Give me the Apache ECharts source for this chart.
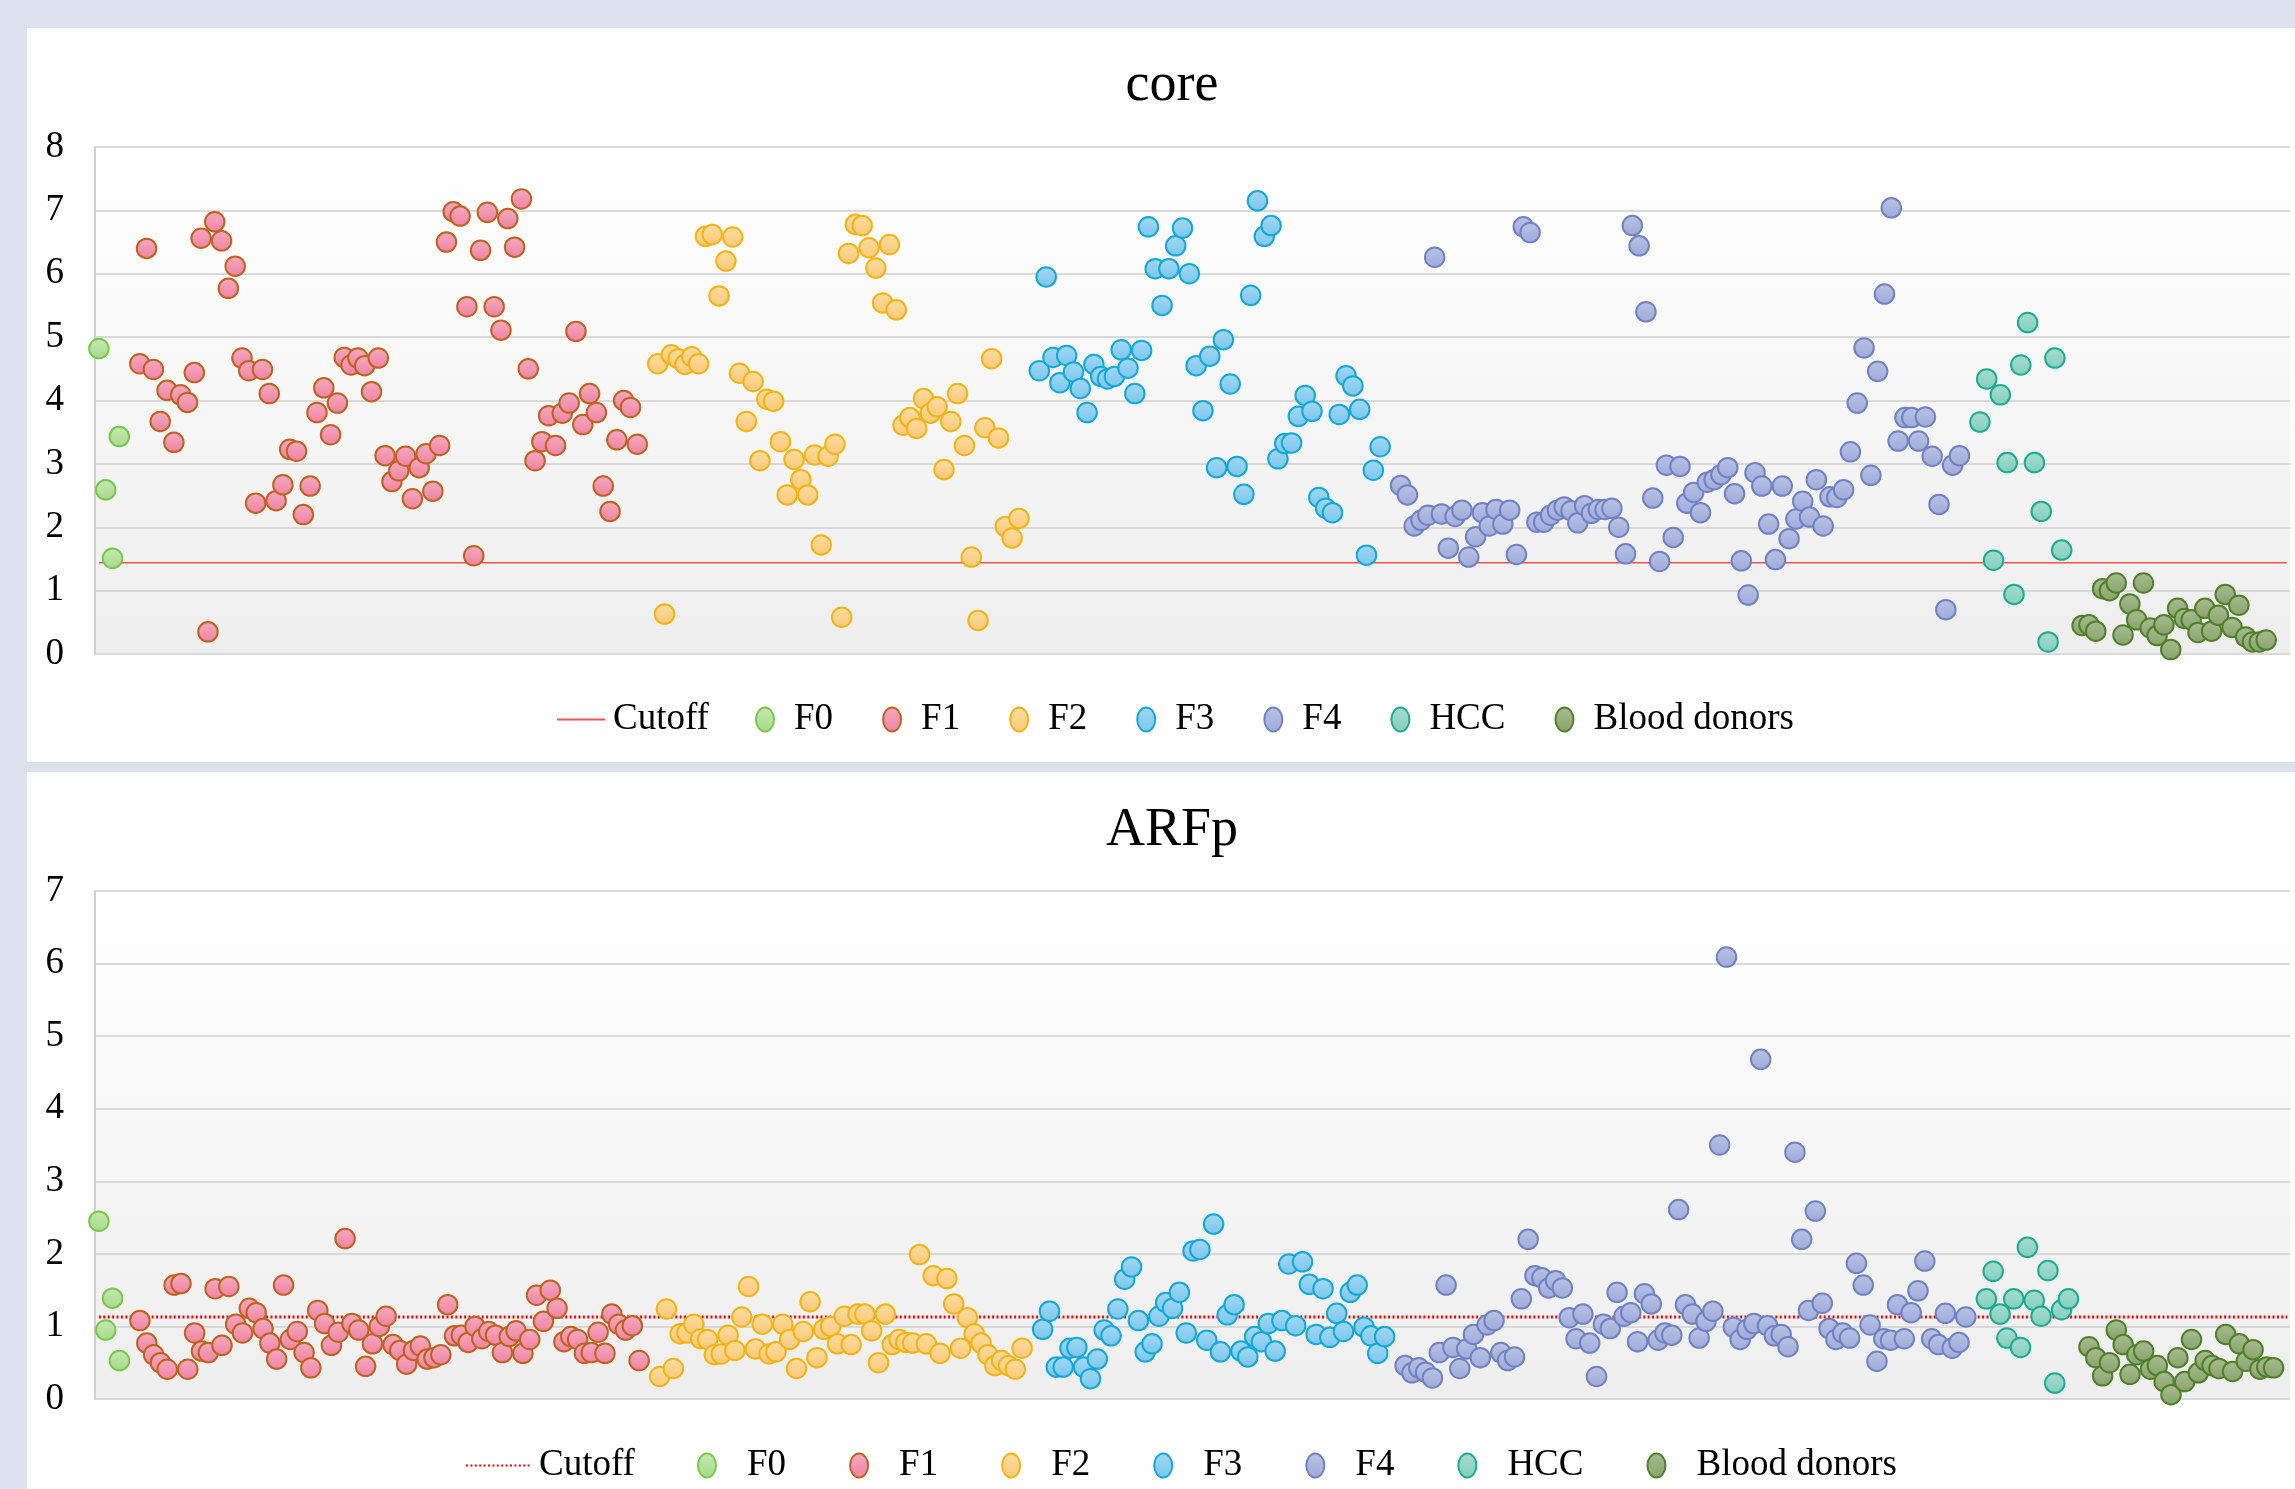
<!DOCTYPE html>
<html><head><meta charset="utf-8">
<script src="https://cdn.jsdelivr.net/npm/echarts/dist/echarts.min.js"></script>
<style>
html,body{margin:0;padding:0;width:2295px;height:1489px;background:#dde1ee;overflow:hidden;}
.panel{position:absolute;background:#ffffff;}
.chart{position:absolute;left:0;width:2295px;}
</style></head><body>
<div class="panel" style="left:27px;top:28px;width:2268px;height:734px"></div>
<div class="panel" style="left:27px;top:772px;width:2268px;height:717px"></div>
<div id="c1" class="chart" style="top:0;height:765px"></div>
<div id="c2" class="chart" style="top:765px;height:724px"></div>
<script>
// ---------- DATA ----------
const groupNames = ['F0', 'F1', 'F2', 'F3', 'F4', 'HCC', 'Blood donors'];
const groupStarts = [1, 7, 83, 139, 192, 277, 292]; // first sample index of each group

// core panel
const coreCutoff = 1.44;
const coreCutoffX = [1, 322];
const coreYTicks = [0, 8, 1];
const coreF0 = [4.82, 2.59, 1.51, 3.43];
const coreF1 = [4.58, 6.40, 4.49, 3.67, 4.16, 3.34, 4.09, 3.97, 4.44, 6.56,
  0.35, 6.82, 6.52, 5.77, 6.12, 4.67, 4.47, 2.38, 4.49, 4.11,
  2.42, 2.67, 3.23, 3.20, 2.20, 2.65, 3.81, 4.20, 3.46, 3.96,
  4.68, 4.56, 4.67, 4.55, 4.14, 4.67, 3.13, 2.72, 2.89, 3.12,
  2.45, 2.94, 3.16, 2.57, 3.29, 6.50, 6.98, 6.91, 5.48, 1.55,
  6.37, 6.97, 5.48, 5.11, 6.87, 6.42, 7.18, 4.50, 3.05, 3.35,
  3.76, 3.29, 3.80, 3.96, 5.09, 3.62, 4.11, 3.81, 2.65, 2.25,
  3.38, 4.00, 3.89, 3.31];
const coreF2 = [4.58, 0.63, 4.72, 4.66, 4.57, 4.69, 4.58, 6.59, 6.62, 5.65,
  6.20, 6.58, 4.43, 3.67, 4.30, 3.05, 4.02, 3.99, 3.35, 2.51,
  3.07, 2.75, 2.51, 3.14, 1.72, 3.12, 3.31, 0.58, 6.32, 6.78,
  6.76, 6.41, 6.09, 5.54, 6.46, 5.43, 3.61, 3.73, 3.56, 4.03,
  3.80, 3.90, 2.91, 3.67, 4.11, 3.29, 1.53, 0.53, 3.57, 4.66,
  3.41, 2.01, 1.83, 2.14];
const coreF3 = [4.47, 5.95, 4.68, 4.28, 4.71, 4.45, 4.19, 3.81, 4.57, 4.38,
  4.34, 4.38, 4.80, 4.51, 4.11, 4.79, 6.74, 6.08, 5.50, 6.08,
  6.44, 6.72, 6.00, 4.55, 3.84, 4.70, 2.94, 4.96, 4.26, 2.96,
  2.52, 5.66, 7.15, 6.59, 6.76, 3.08, 3.32, 3.33, 3.75, 4.08,
  3.83, 2.47, 2.30, 2.23, 3.78, 4.39, 4.23, 3.86, 1.56, 2.90,
  3.27];
const coreF4 = [2.66, 2.51, 2.02, 2.11, 2.19, 6.26, 2.21, 1.67, 2.17, 2.27,
  1.53, 1.85, 2.23, 2.02, 2.28, 2.05, 2.27, 1.57, 6.74, 6.65,
  2.08, 2.08, 2.19, 2.27, 2.32, 2.26, 2.07, 2.34, 2.22, 2.28,
  2.28, 2.30, 2.00, 1.58, 6.76, 6.44, 5.40, 2.46, 1.46, 2.98,
  1.84, 2.96, 2.38, 2.55, 2.23, 2.71, 2.75, 2.83, 2.94, 2.53,
  1.47, 0.93, 2.86, 2.65, 2.05, 1.49, 2.65, 1.82, 2.13, 2.41,
  2.16, 2.75, 2.02, 2.48, 2.47, 2.59, 3.19, 3.96, 4.83, 2.82,
  4.46, 5.68, 7.04, 3.36, 3.73, 3.73, 3.36, 3.74, 3.12, 2.36,
  0.70, 2.98, 3.13];
const coreHCC = [3.66, 4.34, 1.48, 4.09, 3.02, 0.94, 4.56, 5.23, 3.02, 2.25, 0.19, 4.67, 1.64];
const coreDonors = [0.45, 0.46, 0.36, 1.03, 1.00, 1.12, 0.30, 0.79, 0.54, 1.12,
  0.41, 0.29, 0.46, 0.07, 0.72, 0.56, 0.54, 0.34, 0.72, 0.36,
  0.61, 0.94, 0.42, 0.77, 0.27, 0.19, 0.19, 0.22];

// ARFp panel
const arfpCutoff = 1.13;
const arfpCutoffX = [1, 321];
const arfpYTicks = [0, 7, 1];
const arfpF0 = [2.45, 0.95, 1.39, 0.53];
const arfpF1 = [1.08, 0.77, 0.61, 0.50, 0.41, 1.57, 1.59, 0.41, 0.91, 0.66,
  0.64, 1.52, 0.74, 1.55, 1.03, 0.91, 1.25, 1.19, 0.97, 0.77,
  0.55, 1.57, 0.82, 0.93, 0.64, 0.43, 1.22, 1.04, 0.74, 0.92,
  2.21, 1.04, 0.95, 0.45, 0.76, 1.00, 1.14, 0.75, 0.67, 0.48,
  0.67, 0.73, 0.55, 0.57, 0.61, 1.30, 0.87, 0.88, 0.78, 1.00,
  0.83, 0.93, 0.88, 0.64, 0.86, 0.94, 0.63, 0.82, 1.43, 1.07,
  1.50, 1.25, 0.79, 0.86, 0.82, 0.63, 0.64, 0.92, 0.63, 1.17,
  1.03, 0.95, 1.01, 0.53];
const arfpF2 = [0.31, 1.24, 0.42, 0.90, 0.91, 1.03, 0.83, 0.82, 0.61, 0.62,
  0.88, 0.67, 1.13, 1.55, 0.69, 1.03, 0.62, 0.65, 1.03, 0.82,
  0.42, 0.93, 1.34, 0.57, 0.96, 1.00, 0.76, 1.14, 0.75, 1.17,
  1.17, 0.94, 0.50, 1.17, 0.75, 0.82, 0.78, 0.77, 1.99, 0.76,
  1.70, 0.63, 1.66, 1.31, 0.70, 1.12, 0.90, 0.77, 0.61, 0.46,
  0.53, 0.46, 0.41, 0.70];
const arfpF3 = [0.96, 1.21, 0.44, 0.44, 0.70, 0.71, 0.44, 0.28, 0.55, 0.95,
  0.87, 1.24, 1.65, 1.82, 1.08, 0.65, 0.76, 1.14, 1.33, 1.25,
  1.47, 0.91, 2.04, 2.06, 0.81, 2.41, 0.65, 1.16, 1.30, 0.66,
  0.58, 0.86, 0.79, 1.04, 0.66, 1.08, 1.86, 1.01, 1.89, 1.58,
  0.89, 1.52, 0.85, 1.18, 0.93, 1.47, 1.57, 0.99, 0.87, 0.63,
  0.86];
const arfpF4 = [0.46, 0.36, 0.43, 0.37, 0.29, 0.64, 1.57, 0.71, 0.42, 0.69,
  0.89, 0.57, 1.02, 1.08, 0.64, 0.53, 0.58, 1.38, 2.20, 1.70,
  1.67, 1.53, 1.63, 1.53, 1.12, 0.83, 1.17, 0.77, 0.31, 1.03,
  0.97, 1.47, 1.14, 1.19, 0.79, 1.45, 1.31, 0.81, 0.91, 0.88,
  2.61, 1.30, 1.17, 0.84, 1.07, 1.21, 3.50, 6.09, 0.99, 0.82,
  0.96, 1.04, 4.68, 1.01, 0.87, 0.89, 0.72, 3.40, 2.20, 1.22,
  2.59, 1.32, 0.97, 0.82, 0.91, 0.84, 1.87, 1.57, 1.02, 0.52,
  0.83, 0.81, 1.30, 0.83, 1.19, 1.49, 1.90, 0.83, 0.75, 1.18,
  0.70, 0.78, 1.13];
const arfpHCC = [1.38, 1.76, 1.17, 0.84, 1.38, 0.71, 2.09, 1.36, 1.14, 1.77, 0.22, 1.23, 1.38];
const arfpDonors = [0.72, 0.57, 0.32, 0.50, 0.95, 0.75, 0.34, 0.61, 0.66, 0.41,
  0.46, 0.24, 0.06, 0.57, 0.24, 0.82, 0.36, 0.53, 0.46, 0.42,
  0.89, 0.38, 0.76, 0.52, 0.68, 0.41, 0.44, 0.43];

// ---------- STYLE ----------
const fillTop    = ['#c6e9b3', '#f6abc0', '#fedda2', '#a3d8f3', '#b9c3e4', '#a6ddcf', '#a8bd92'];
const fillBottom = ['#a6d98a', '#ef82a2', '#fcc877', '#7ac6ee', '#9eabda', '#84cebc', '#88a36c'];
const borderCols = ['#78c84b', '#c0621e', '#f5b414', '#12a8d8', '#7082c3', '#1cac92', '#50802a'];
const FONT = '"Liberation Serif", "Times New Roman", serif';
const ellipse = 'path://M50,0C77.6,0,100,22.4,100,50C100,77.6,77.6,100,50,100C22.4,100,0,77.6,0,50C0,22.4,22.4,0,50,0Z';

function grad(a, b) {
  return { type: 'linear', x: 0, y: 0, x2: 0, y2: 1, colorStops: [{ offset: 0, color: a }, { offset: 1, color: b }] };
}

function buildOption(cfg) {
  const series = [{
    name: 'Cutoff', type: 'line', z: 1, symbol: 'none', silent: true,
    data: cfg.cutoffX.map(x => [x, cfg.cutoff]),
    itemStyle: { color: cfg.cutoffStyle.color, opacity: 0 },
    lineStyle: cfg.cutoffStyle
  }];
  cfg.groups.forEach((vals, gi) => {
    series.push({
      name: groupNames[gi], type: 'scatter', z: 2, symbol: 'circle', symbolSize: 19.5,
      data: vals.map((v, i) => [groupStarts[gi] + i, v]),
      itemStyle: { color: grad(fillTop[gi], fillBottom[gi]), borderColor: borderCols[gi], borderWidth: 2, opacity: 1 },
      emphasis: { disabled: true }
    });
  });
  return {
    animation: false,
    graphic: [{
      type: 'text', x: 1172, y: cfg.titleY, silent: true,
      style: { text: cfg.title, fill: '#000', fontSize: 54, fontFamily: FONT, align: 'center', verticalAlign: 'middle' }
    }],
    grid: {
      left: 95, top: cfg.gridTop, width: 2195, height: cfg.gridH, show: true, borderWidth: 0,
      backgroundColor: grad('#ffffff', '#eeeeee'), outerBoundsMode: 'none', containLabel: false
    },
    xAxis: { type: 'value', min: cfg.xRange[0], max: cfg.xRange[1], show: false, splitLine: { show: false } },
    yAxis: {
      type: 'value', min: cfg.yTicks[0], max: cfg.yTicks[1], interval: cfg.yTicks[2],
      axisLine: { show: true, lineStyle: { color: '#cfcfcf', width: 2 } },
      axisTick: { show: false },
      splitLine: { show: true, lineStyle: { color: '#d9d9d9', width: 2 } },
      axisLabel: { margin: 31, fontSize: 37, fontFamily: FONT, color: '#000', padding: [9, 0, 0, 0] }
    },
    legend: [{
      data: ['Cutoff'], left: cfg.cutLegLeft, top: cfg.legTop, padding: 0,
      itemWidth: cfg.cutLegW, itemHeight: 24, selectedMode: false,
      itemStyle: { opacity: 0 },
      textStyle: { fontSize: 37, fontFamily: FONT, color: '#000', padding: [0, 0, 0, 3] }
    }, {
      data: groupNames, left: cfg.mkLegLeft, top: cfg.legTop, padding: 0,
      icon: ellipse, symbolKeepAspect: false, itemWidth: 18, itemHeight: 24, itemGap: cfg.mkGap,
      selectedMode: false,
      textStyle: { fontSize: 37, fontFamily: FONT, color: '#000', padding: [0, 0, 0, cfg.mkPad] }
    }],
    series: series
  };
}

const c1 = echarts.init(document.getElementById('c1'), null, { renderer: 'canvas' });
c1.setOption(buildOption({
  title: 'core', titleY: 86, gridTop: 147, gridH: 507,
  xRange: [0.43, 322.5], yTicks: coreYTicks,
  cutoff: coreCutoff, cutoffX: coreCutoffX,
  cutoffStyle: { color: '#ee5555', width: 1.6, type: 'solid' },
  groups: [coreF0, coreF1, coreF2, coreF3, coreF4, coreHCC, coreDonors],
  legTop: 701, cutLegLeft: 556, cutLegW: 48, mkLegLeft: 755, mkGap: 49, mkPad: 15
}));

const c2 = echarts.init(document.getElementById('c2'), null, { renderer: 'canvas' });
c2.setOption(buildOption({
  title: 'ARFp', titleY: 66, gridTop: 126, gridH: 508,
  xRange: [0.43, 321.4], yTicks: arfpYTicks,
  cutoff: arfpCutoff, cutoffX: arfpCutoffX,
  cutoffStyle: { color: '#ff0000', width: 3, type: [2, 2.4] },
  groups: [arfpF0, arfpF1, arfpF2, arfpF3, arfpF4, arfpHCC, arfpDonors],
  legTop: 682, cutLegLeft: 465, cutLegW: 65, mkLegLeft: 697, mkGap: 63, mkPad: 26
}));
</script>
</body></html>
